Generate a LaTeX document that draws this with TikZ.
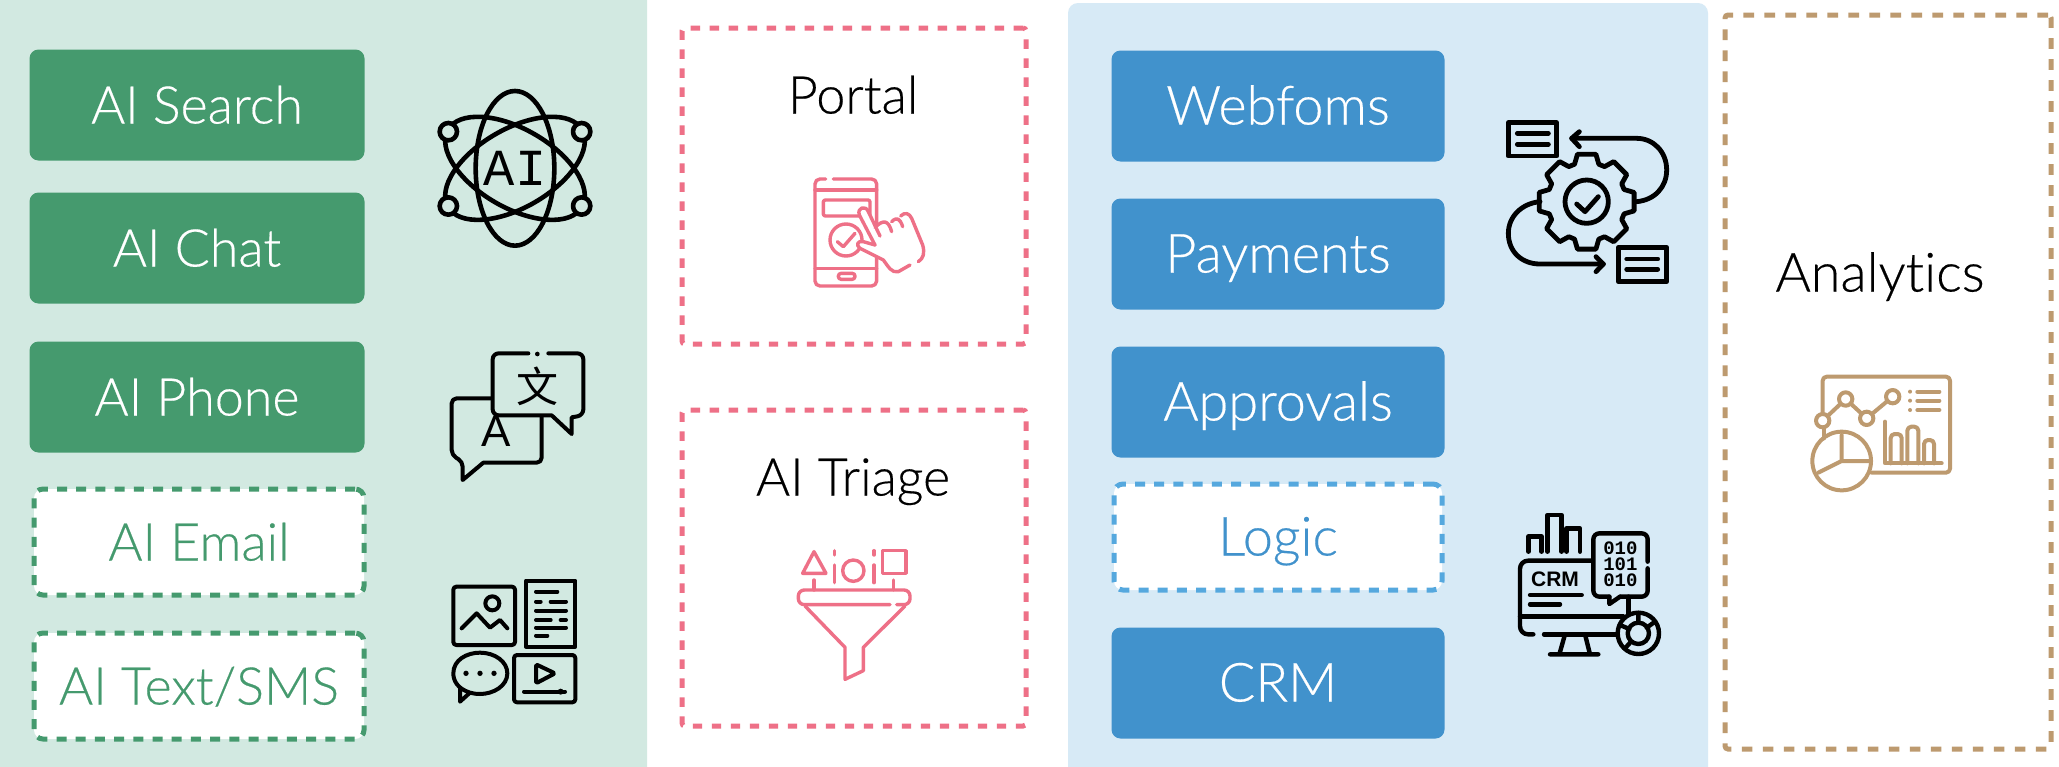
\documentclass[tikz,border=0pt]{standalone}
\usepackage{fontspec}
\setmainfont{Lato Light}[Ligatures=NoCommon,FakeBold=0.35]
\newfontfamily\cjk{Noto Sans CJK SC}
\newfontfamily\iconmono{Liberation Mono}
\newfontfamily\iconsans{Liberation Sans}
\usetikzlibrary{positioning}
\definecolor{greenpanel}{HTML}{D2E9E1}
\definecolor{greenbox}{HTML}{459A6E}
\definecolor{bluepanel}{HTML}{D7EAF6}
\definecolor{bluebox}{HTML}{4192CC}
\definecolor{bluedashed}{HTML}{55A8DE}
\definecolor{pinkline}{HTML}{EE7087}
\definecolor{brownline}{HTML}{BD9A6F}
\tikzset{
  label size/.style={font=\fontsize{#1}{30}\selectfont\addfontfeature{FakeBold=0.35},text height=18.5pt,text depth=0pt,inner sep=0pt},
  label size/.default=26,
  solidbox/.style={
    % The shape:
    rectangle,rounded corners=4.5pt,
    % The size:
    minimum width=#1,minimum height=55.5pt,
    label size,text=white
  },
  greensolid/.style={solidbox=167.5pt,fill=greenbox},
  bluesolid/.style={solidbox=166.5pt,fill=bluebox},
  dashbox/.style={
    rectangle,rounded corners=4.5pt,
    minimum width=#1,minimum height=53pt,
    line width=2.5pt,dash pattern=on 5pt off 4.6pt,fill=white,
    label size
  },
  greendash/.style={dashbox=165pt,draw=greenbox,text=greenbox},
  bluedash/.style={dashbox=164pt,draw=bluedashed,text=bluebox},
  pinkdash/.style={
    rectangle,rounded corners=1.5pt,line width=2.5pt,draw=pinkline,
    dash pattern=on 4.7pt off 4.8pt,minimum width=172pt,minimum height=158pt
  },
  browndash/.style={
    rectangle,rounded corners=1.5pt,line width=2.5pt,draw=brownline,
    dash pattern=on 5.3pt off 5.2pt,minimum width=163pt,minimum height=367pt
  },
  icon/.style={line width=2pt,line cap=round,line join=round},
  iconlabel/.style={inner sep=0pt,text=black}
}
\begin{document}
\begin{tikzpicture}[x=.5pt,y=-.5pt]
  \clip (0,0) rectangle (2059,766);
  \fill[white] (0,0) rectangle (2059,766);

  % panels
  \fill[greenpanel,rounded corners=5pt] (-30,-30) rectangle (647,800);
  \fill[bluepanel,rounded corners=5pt] (1068,3) rectangle (1708,800);

  % left column
  \node (search) [greensolid] at (197,105) {AI Search};
  \node (chat)   [greensolid] at (197,248) {AI Chat};
  \node (phone)  [greensolid] at (197,397) {AI Phone};
  \node (email)  [greendash]  at (199,542) {AI Email};
  \node (sms)    [greendash]  at (199,686) {AI Text/SMS};

  % middle column
  \node (portalbox) [pinkdash] at (854,186) {};
  \node (triagebox) [pinkdash] at (854,568) {};
  \node (portal) [label size] at (853,95) {Portal};
  \node (triage) [label size] at (853,477) {AI Triage};

  % right column
  \node (webforms)  [bluesolid,label size=27] at (1278,106) {Webfoms};
  \node (payments)  [bluesolid,label size=27] at (1278,254) {Payments};
  \node (approvals) [bluesolid,label size=27] at (1278,402) {Approvals};
  \node (logic)     [bluedash,label size=27]  at (1278,537) {Logic};
  \node (crm)       [bluesolid,label size=27] at (1278,683) {CRM};

  % analytics
  \node (analyticsbox) [browndash] at (1888,382) {};
  \node (analytics) [label size=27] at (1880,273) {Analytics};

  % atom
  \begin{scope}[shift={(400,60)},scale=1/3,icon,line width=2.3pt]
    \draw (345,325) ellipse [x radius=118,y radius=232];
    \draw[rotate around={60:(345,325)}] (345,325) ellipse [x radius=118,y radius=232];
    \draw[rotate around={-60:(345,325)}] (345,325) ellipse [x radius=118,y radius=232];
    \foreach \cx/\cy in {145/215,545/215,145/438,545/438}
      \draw[fill=greenpanel] (\cx,\cy) circle [radius=26];
    \node (atomtext) [iconlabel,font=\iconmono\fontsize{26}{28}\selectfont] at (345,325) {AI};
  \end{scope}

  % translate
  \begin{scope}[shift={(420,330)},scale=1/3,icon]
    \node (lettera) [iconlabel,font=\iconsans\fontsize{22}{24}\selectfont] at (229,303) {A};
    \draw[rounded corners=2.5pt] (215,205) -- (95,205) -- (95,375) -- (128,395) [sharp corners] -- (128,450) -- (190,398) [rounded corners=2.5pt] -- (365,398) -- (365,260);
    \draw[rounded corners=3pt] (325,70) -- (218,70) -- (218,256) [sharp corners] -- (395,256) -- (455,312) -- (455,262) [rounded corners=3pt] -- (490,256) -- (490,70) -- (385,70);
    \fill (352,72) circle [radius=7];
    \node (letterb) [iconlabel,font=\cjk\fontsize{21}{22}\selectfont] at (352,168) {文};
  \end{scope}

  % media
  \begin{scope}[shift={(420,330)},scale=1/3,icon]
    \draw[rounded corners=1.5pt] (100,770) rectangle (285,945);
    \draw (217,820) circle [radius=21];
    \draw (125,895) -- (170,850) -- (210,893) -- (240,870) -- (262,895);
    \draw (318,752) rectangle (466,950);
    \draw (348,785) -- (412,785);
    \draw (348,815) -- (362,815) (392,815) -- (438,815);
    \draw (348,842) -- (438,842);
    \draw (348,870) -- (392,870) (422,870) -- (438,870);
    \draw (348,893) -- (438,893);
    \draw (348,917) -- (382,917);
    \draw (150,1088) .. controls (110,1075) and (100,1050) .. (100,1030) .. controls (100,990) and (140,968) .. (180,968) .. controls (225,968) and (262,995) .. (262,1030) .. controls (262,1068) and (220,1092) .. (180,1092) .. controls (170,1092) and (160,1091) .. (150,1088) -- (120,1115) -- (120,1075);
    \foreach \cx in {138,180,222}
      \fill (\cx,1030) circle [radius=8];
    \draw[rounded corners=1.5pt] (282,975) rectangle (466,1117);
    \draw[rounded corners=1pt] (348,1003) -- (405,1030) -- (348,1060) -- cycle;
    \draw (312,1085) -- (435,1085);
    \fill (422,1085) circle [radius=9];
  \end{scope}

  % phone
  \begin{scope}[shift={(760,150)},scale=1/3,icon,line width=1.7pt,draw=pinkline]
    \draw[rounded corners=2.5pt] (197,87) -- (165,87) -- (165,408) -- (350,408) -- (350,87) -- (220,87);
    \draw (165,120) -- (350,120) (165,355) -- (350,355);
    \draw[rounded corners=1.4pt] (235,370) rectangle (285,388);
    \draw[rounded corners=1pt] (190,150) rectangle (330,198);
    \draw (258,270) circle [radius=48];
    \draw (232,275) -- (250,290) -- (285,250);
    \fill[white] (345,285) -- (298,195) .. controls (290,172) and (318,165) .. (325,185) -- (345,232) .. controls (370,208) and (385,210) .. (395,215) .. controls (410,200) and (415,205) .. (422,198) .. controls (435,185) and (448,190) .. (455,205) -- (488,285) .. controls (495,310) and (490,325) .. (475,335) -- (450,345) -- (415,365) .. controls (395,370) and (385,350) .. (370,330) -- (300,295) .. controls (285,285) and (295,270) .. (310,275) -- cycle;
    \draw (345,285) -- (298,195) .. controls (290,172) and (318,165) .. (325,185) -- (360,258);
    \draw (345,232) .. controls (370,208) and (385,210) .. (395,245);
    \draw (395,215) .. controls (410,200) and (420,205) .. (428,230);
    \draw (422,198) .. controls (435,185) and (448,190) .. (455,205) -- (488,285) .. controls (495,310) and (490,325) .. (475,335);
    \draw (450,345) -- (415,365) .. controls (395,370) and (385,350) .. (370,330) -- (300,295) .. controls (285,285) and (295,270) .. (310,275) -- (345,285);
  \end{scope}

  % funnel
  \begin{scope}[shift={(770,530)},scale=1/3,icon,line width=1.7pt,draw=pinkline]
    \draw (132,65) -- (98,130) -- (168,130) -- cycle;
    \draw (193,62) -- (193,75) (193,105) -- (193,158);
    \draw (312,62) -- (312,75) (312,105) -- (312,158);
    \draw (250,122) circle [radius=32];
    \draw (338,62) rectangle (408,130);
    \draw (132,150) -- (132,180) (370,150) -- (370,180);
    \draw[rounded corners=3pt] (360,224) -- (85,224) -- (85,180) -- (420,180) -- (420,224) -- (380,224);
    \draw (105,228) -- (225,352) -- (225,448) -- (280,422) -- (280,352) -- (405,228);
  \end{scope}

  % workflow gear
  \begin{scope}[shift={(1490,100)},scale=1/3,icon,line width=2.4pt]
    \draw (55,68) rectangle (200,168);
    \draw (82,100) -- (175,100) (82,133) -- (175,133);
    \draw (385,442) rectangle (530,545);
    \draw (410,477) -- (503,477) (410,508) -- (503,508);
    \draw (440,305) .. controls (495,300) and (530,260) .. (530,210) .. controls (530,155) and (490,115) .. (440,115) -- (245,115);
    \draw (268,95) -- (245,115) -- (268,140);
    \draw (150,305) .. controls (95,310) and (55,350) .. (55,400) .. controls (55,455) and (95,492) .. (150,492) -- (340,492);
    \draw (318,470) -- (340,492) -- (318,515);
    \begin{scope}[shift={(290,305)}]
      \draw (-18:118) \foreach \ang in {0,45,...,315}{ -- (\ang-18:118) -- (\ang-11:145) -- (\ang+11:145) -- (\ang+18:118)} -- cycle;
    \end{scope}
    \draw (290,305) circle [radius=65];
    \draw (260,312) -- (285,335) -- (325,290);
  \end{scope}

  % crm screen
  \begin{scope}[shift={(1500,500)},scale=1/3,icon,line width=2.2pt]
    \draw (85,155) -- (85,110) -- (125,110) -- (125,155);
    \draw (142,155) -- (142,45) -- (185,45) -- (185,155);
    \draw (200,155) -- (200,85) -- (240,85) -- (240,155);
    \draw[rounded corners=4pt] (275,182) -- (60,182) -- (60,403) -- (100,403);
    \draw (132,403) -- (355,403);
    \draw (60,350) -- (370,350);
    \draw (385,290) -- (385,345);
    \draw (195,403) -- (178,463) (255,403) -- (270,463) (150,463) -- (295,463);
    \draw[rounded corners=3pt] (443,185) -- (443,100) -- (280,100) -- (280,290) -- (328,290);
    \draw (328,290) -- (328,312) -- (360,290);
    \draw[rounded corners=3pt] (360,290) -- (443,290) -- (443,205);
    \node (crmtext) [iconlabel,font=\iconsans\bfseries\fontsize{10.5}{12}\selectfont] at (165,238) {CRM};
    \node (bitsa) [iconlabel,font=\iconmono\bfseries\fontsize{9.5}{10}\selectfont] at (361,145) {010};
    \node (bitsb) [iconlabel,font=\iconmono\bfseries\fontsize{9.5}{10}\selectfont] at (361,192) {101};
    \node (bitsc) [iconlabel,font=\iconmono\bfseries\fontsize{9.5}{10}\selectfont] at (361,240) {010};
    \draw (90,285) -- (245,285) (90,313) -- (180,313);
    \draw[fill=bluepanel] (415,400) circle [radius=62];
    \draw (415,400) circle [radius=32];
    \draw (415,340) -- (415,368) (465,365) -- (440,383) (360,375) -- (388,387) (375,445) -- (393,425);
  \end{scope}

  % dashboard
  \begin{scope}[shift={(1800,360)},scale=1/3,icon,draw=brownline]
    \draw[rounded corners=2pt] (68,160) -- (68,50) -- (450,50) -- (450,338) -- (215,338);
    \draw (72,205) -- (72,235);
    \draw (68,182) -- (137,117) -- (200,175) -- (278,110);
    \foreach \cx/\cy in {68/182,137/117,200/175,278/110}
      \draw[fill=white] (\cx,\cy) circle [radius=20];
    \foreach \cy in {95,122,150} {
      \fill[brownline] (330,\cy) circle [radius=6];
      \draw (352,\cy) -- (418,\cy);
    }
    \draw (255,185) -- (255,310) -- (425,310);
    \draw[rounded corners=2pt] (272,310) -- (272,222) -- (305,222) -- (305,310);
    \draw[rounded corners=2pt] (322,310) -- (322,200) -- (355,200) -- (355,310);
    \draw[rounded corners=2pt] (372,310) -- (372,240) -- (402,240) -- (402,310);
    \draw (125,303) circle [radius=88];
    \draw (125,225) -- (125,303) -- (210,303) (125,303) -- (55,338);
  \end{scope}
\end{tikzpicture}
\end{document}
